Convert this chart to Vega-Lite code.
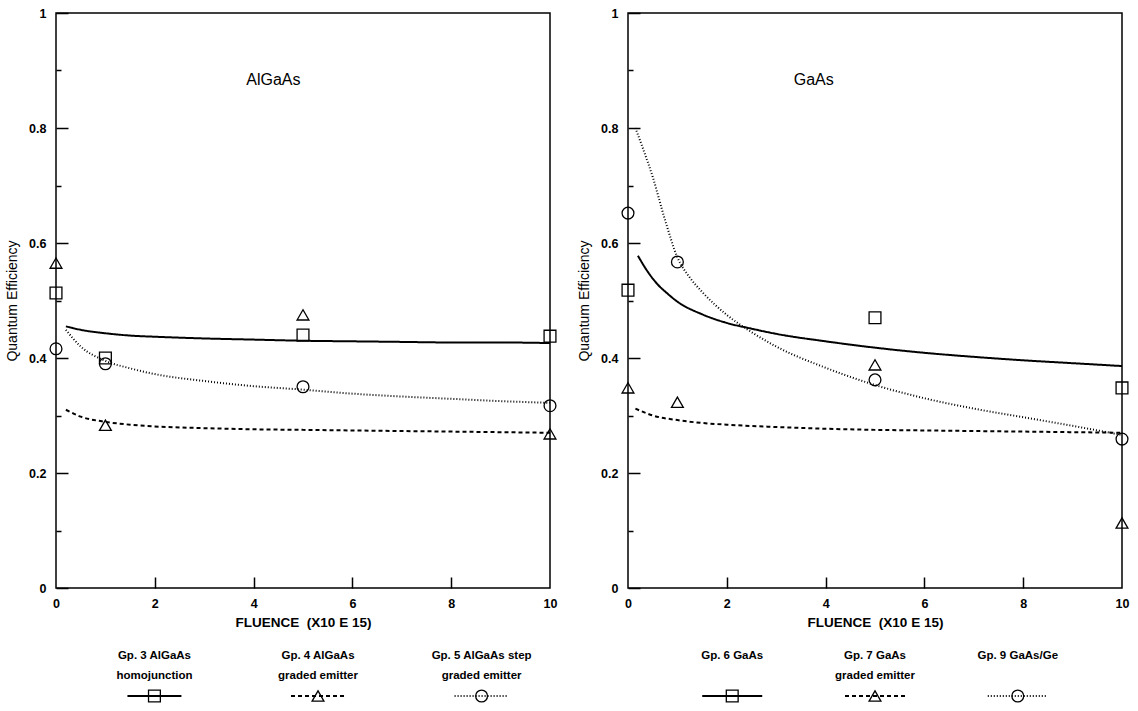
{
  "$schema": "https://vega.github.io/schema/vega-lite/v6.json",
  "background": "white",
  "padding": {"left": 4, "top": 6, "right": 0, "bottom": 0},
  "config": {
    "font": "Liberation Sans",
    "view": {"stroke": "black", "strokeWidth": 1.5},
    "axis": {"zindex": 1, "domain": false, "ticks": true, "tickColor": "black", "tickOpacity": 1, "tickWidth": 1.5, "labelColor": "black", "titleColor": "black", "grid": false, "labelFont": "Liberation Sans", "labelFontWeight": "bold", "labelFontSize": 12.5, "titleFont": "Liberation Sans", "titleFontSize": 13.5}
  },
  "datasets": {
    "curves": [
      {"panel": "AlGaAs", "group": "Gp. 3", "x": 0.2, "y": 0.455}, {"panel": "AlGaAs", "group": "Gp. 3", "x": 0.5, "y": 0.449}, {"panel": "AlGaAs", "group": "Gp. 3", "x": 1, "y": 0.443}, {"panel": "AlGaAs", "group": "Gp. 3", "x": 1.5, "y": 0.439}, {"panel": "AlGaAs", "group": "Gp. 3", "x": 2, "y": 0.437}, {"panel": "AlGaAs", "group": "Gp. 3", "x": 3, "y": 0.434}, {"panel": "AlGaAs", "group": "Gp. 3", "x": 4, "y": 0.432}, {"panel": "AlGaAs", "group": "Gp. 3", "x": 5, "y": 0.430}, {"panel": "AlGaAs", "group": "Gp. 3", "x": 6, "y": 0.429}, {"panel": "AlGaAs", "group": "Gp. 3", "x": 7, "y": 0.428}, {"panel": "AlGaAs", "group": "Gp. 3", "x": 8, "y": 0.427}, {"panel": "AlGaAs", "group": "Gp. 3", "x": 9, "y": 0.427}, {"panel": "AlGaAs", "group": "Gp. 3", "x": 10, "y": 0.426},
      {"panel": "AlGaAs", "group": "Gp. 4", "x": 0.2, "y": 0.310}, {"panel": "AlGaAs", "group": "Gp. 4", "x": 0.5, "y": 0.298}, {"panel": "AlGaAs", "group": "Gp. 4", "x": 1, "y": 0.289}, {"panel": "AlGaAs", "group": "Gp. 4", "x": 1.5, "y": 0.284}, {"panel": "AlGaAs", "group": "Gp. 4", "x": 2, "y": 0.281}, {"panel": "AlGaAs", "group": "Gp. 4", "x": 3, "y": 0.278}, {"panel": "AlGaAs", "group": "Gp. 4", "x": 4, "y": 0.276}, {"panel": "AlGaAs", "group": "Gp. 4", "x": 5, "y": 0.275}, {"panel": "AlGaAs", "group": "Gp. 4", "x": 6, "y": 0.274}, {"panel": "AlGaAs", "group": "Gp. 4", "x": 7, "y": 0.273}, {"panel": "AlGaAs", "group": "Gp. 4", "x": 8, "y": 0.272}, {"panel": "AlGaAs", "group": "Gp. 4", "x": 9, "y": 0.271}, {"panel": "AlGaAs", "group": "Gp. 4", "x": 10, "y": 0.270},
      {"panel": "AlGaAs", "group": "Gp. 5", "x": 0.2, "y": 0.449}, {"panel": "AlGaAs", "group": "Gp. 5", "x": 0.5, "y": 0.420}, {"panel": "AlGaAs", "group": "Gp. 5", "x": 1, "y": 0.395}, {"panel": "AlGaAs", "group": "Gp. 5", "x": 1.5, "y": 0.382}, {"panel": "AlGaAs", "group": "Gp. 5", "x": 2, "y": 0.372}, {"panel": "AlGaAs", "group": "Gp. 5", "x": 3, "y": 0.360}, {"panel": "AlGaAs", "group": "Gp. 5", "x": 4, "y": 0.351}, {"panel": "AlGaAs", "group": "Gp. 5", "x": 5, "y": 0.345}, {"panel": "AlGaAs", "group": "Gp. 5", "x": 6, "y": 0.338}, {"panel": "AlGaAs", "group": "Gp. 5", "x": 7, "y": 0.333}, {"panel": "AlGaAs", "group": "Gp. 5", "x": 8, "y": 0.329}, {"panel": "AlGaAs", "group": "Gp. 5", "x": 9, "y": 0.325}, {"panel": "AlGaAs", "group": "Gp. 5", "x": 10, "y": 0.322},
      {"panel": "GaAs", "group": "Gp. 6", "x": 0.2, "y": 0.578}, {"panel": "GaAs", "group": "Gp. 6", "x": 0.4, "y": 0.550}, {"panel": "GaAs", "group": "Gp. 6", "x": 0.6, "y": 0.528}, {"panel": "GaAs", "group": "Gp. 6", "x": 0.8, "y": 0.512}, {"panel": "GaAs", "group": "Gp. 6", "x": 1, "y": 0.498}, {"panel": "GaAs", "group": "Gp. 6", "x": 1.5, "y": 0.476}, {"panel": "GaAs", "group": "Gp. 6", "x": 2, "y": 0.461}, {"panel": "GaAs", "group": "Gp. 6", "x": 2.5, "y": 0.451}, {"panel": "GaAs", "group": "Gp. 6", "x": 3, "y": 0.442}, {"panel": "GaAs", "group": "Gp. 6", "x": 4, "y": 0.429}, {"panel": "GaAs", "group": "Gp. 6", "x": 5, "y": 0.418}, {"panel": "GaAs", "group": "Gp. 6", "x": 6, "y": 0.409}, {"panel": "GaAs", "group": "Gp. 6", "x": 7, "y": 0.402}, {"panel": "GaAs", "group": "Gp. 6", "x": 8, "y": 0.396}, {"panel": "GaAs", "group": "Gp. 6", "x": 9, "y": 0.391}, {"panel": "GaAs", "group": "Gp. 6", "x": 10, "y": 0.386},
      {"panel": "GaAs", "group": "Gp. 7", "x": 0.15, "y": 0.312}, {"panel": "GaAs", "group": "Gp. 7", "x": 0.5, "y": 0.300}, {"panel": "GaAs", "group": "Gp. 7", "x": 1, "y": 0.292}, {"panel": "GaAs", "group": "Gp. 7", "x": 1.5, "y": 0.287}, {"panel": "GaAs", "group": "Gp. 7", "x": 2, "y": 0.284}, {"panel": "GaAs", "group": "Gp. 7", "x": 3, "y": 0.280}, {"panel": "GaAs", "group": "Gp. 7", "x": 4, "y": 0.277}, {"panel": "GaAs", "group": "Gp. 7", "x": 5, "y": 0.275}, {"panel": "GaAs", "group": "Gp. 7", "x": 6, "y": 0.274}, {"panel": "GaAs", "group": "Gp. 7", "x": 7, "y": 0.273}, {"panel": "GaAs", "group": "Gp. 7", "x": 8, "y": 0.272}, {"panel": "GaAs", "group": "Gp. 7", "x": 9, "y": 0.271}, {"panel": "GaAs", "group": "Gp. 7", "x": 10, "y": 0.270},
      {"panel": "GaAs", "group": "Gp. 9", "x": 0.15, "y": 0.800}, {"panel": "GaAs", "group": "Gp. 9", "x": 0.3, "y": 0.765}, {"panel": "GaAs", "group": "Gp. 9", "x": 0.5, "y": 0.715}, {"panel": "GaAs", "group": "Gp. 9", "x": 0.75, "y": 0.640}, {"panel": "GaAs", "group": "Gp. 9", "x": 1, "y": 0.575}, {"panel": "GaAs", "group": "Gp. 9", "x": 1.25, "y": 0.540}, {"panel": "GaAs", "group": "Gp. 9", "x": 1.5, "y": 0.515}, {"panel": "GaAs", "group": "Gp. 9", "x": 2, "y": 0.475}, {"panel": "GaAs", "group": "Gp. 9", "x": 2.5, "y": 0.445}, {"panel": "GaAs", "group": "Gp. 9", "x": 3, "y": 0.420}, {"panel": "GaAs", "group": "Gp. 9", "x": 4, "y": 0.383}, {"panel": "GaAs", "group": "Gp. 9", "x": 5, "y": 0.353}, {"panel": "GaAs", "group": "Gp. 9", "x": 6, "y": 0.330}, {"panel": "GaAs", "group": "Gp. 9", "x": 7, "y": 0.312}, {"panel": "GaAs", "group": "Gp. 9", "x": 8, "y": 0.297}, {"panel": "GaAs", "group": "Gp. 9", "x": 9, "y": 0.282}, {"panel": "GaAs", "group": "Gp. 9", "x": 10, "y": 0.266}
    ],
    "points": [
      {"panel": "AlGaAs", "group": "Gp. 3", "x": 0, "y": 0.513}, {"panel": "AlGaAs", "group": "Gp. 3", "x": 1, "y": 0.400}, {"panel": "AlGaAs", "group": "Gp. 3", "x": 5, "y": 0.440}, {"panel": "AlGaAs", "group": "Gp. 3", "x": 10, "y": 0.438},
      {"panel": "AlGaAs", "group": "Gp. 4", "x": 0, "y": 0.565}, {"panel": "AlGaAs", "group": "Gp. 4", "x": 1, "y": 0.283}, {"panel": "AlGaAs", "group": "Gp. 4", "x": 5, "y": 0.475}, {"panel": "AlGaAs", "group": "Gp. 4", "x": 10, "y": 0.268},
      {"panel": "AlGaAs", "group": "Gp. 5", "x": 0, "y": 0.416}, {"panel": "AlGaAs", "group": "Gp. 5", "x": 1, "y": 0.390}, {"panel": "AlGaAs", "group": "Gp. 5", "x": 5, "y": 0.350}, {"panel": "AlGaAs", "group": "Gp. 5", "x": 10, "y": 0.317},
      {"panel": "GaAs", "group": "Gp. 6", "x": 0, "y": 0.518}, {"panel": "GaAs", "group": "Gp. 6", "x": 5, "y": 0.470}, {"panel": "GaAs", "group": "Gp. 6", "x": 10, "y": 0.348},
      {"panel": "GaAs", "group": "Gp. 7", "x": 0, "y": 0.348}, {"panel": "GaAs", "group": "Gp. 7", "x": 1, "y": 0.323}, {"panel": "GaAs", "group": "Gp. 7", "x": 5, "y": 0.388}, {"panel": "GaAs", "group": "Gp. 7", "x": 10, "y": 0.113},
      {"panel": "GaAs", "group": "Gp. 9", "x": 0, "y": 0.652}, {"panel": "GaAs", "group": "Gp. 9", "x": 1, "y": 0.567}, {"panel": "GaAs", "group": "Gp. 9", "x": 5, "y": 0.362}, {"panel": "GaAs", "group": "Gp. 9", "x": 10, "y": 0.259}
    ],
    "legend": [
      {"panel": "AlGaAs", "group": "Gp. 3", "line1": "Gp. 3 AlGaAs", "line2": "homojunction"},
      {"panel": "AlGaAs", "group": "Gp. 4", "line1": "Gp. 4 AlGaAs", "line2": "graded emitter"},
      {"panel": "AlGaAs", "group": "Gp. 5", "line1": "Gp. 5 AlGaAs step", "line2": "graded emitter"},
      {"panel": "GaAs", "group": "Gp. 6", "line1": "Gp. 6 GaAs", "line2": ""},
      {"panel": "GaAs", "group": "Gp. 7", "line1": "Gp. 7 GaAs", "line2": "graded emitter"},
      {"panel": "GaAs", "group": "Gp. 9", "line1": "Gp. 9 GaAs/Ge", "line2": ""}
    ],
    "titles": [
      {"panel": "AlGaAs", "label": "AlGaAs", "x": 4.4, "y": 0.883},
      {"panel": "GaAs", "label": "GaAs", "x": 3.76, "y": 0.883}
    ]
  },
  "resolve": {"scale": {"x": "independent", "y": "independent", "shape": "independent", "strokeDash": "independent", "strokeWidth": "independent"}},
  "spacing": 16,
  "hconcat": [
    {
      "spacing": 16,
      "resolve": {"scale": {"x": "independent", "y": "independent", "shape": "independent", "strokeDash": "independent", "strokeWidth": "independent"}},
      "vconcat": [
        {
          "width": 494,
          "height": 575,
          "encoding": {
            "x": {"field": "x", "type": "quantitative", "scale": {"domain": [0, 10], "nice": false},
              "axis": {"title": "FLUENCE\u00a0 (X10 E 15)", "titleFontWeight": "bold", "values": [0, 2, 4, 6, 8, 10], "offset": -11, "tickSize": 11,
                "tickDash": {"condition": {"test": "datum.value <= 0 || datum.value >= 10", "value": [0, 20]}, "value": [11, 0]},
                "labelPadding": 9, "titlePadding": 6, "labelFlush": false}},
            "y": {"field": "y", "type": "quantitative", "scale": {"domain": [0, 1], "nice": false},
              "axis": {"title": "Quantum Efficiency", "titleFontWeight": "normal", "titleFontSize": 14, "values": [0, 0.1, 0.2, 0.3, 0.4, 0.5, 0.6, 0.7, 0.8, 0.9, 1],
                "offset": -12, "tickSize": 12,
                "tickDash": {"condition": {"test": "round(datum.value*10)%2==1", "value": [0, 7, 5, 100]}, "value": [12, 0]},
                "labelPadding": 10, "titlePadding": 9,
                "labelExpr": "round(datum.value*10)%2==1 ? '' : (datum.value==0 ? '0' : (datum.value==1 ? '1' : format(datum.value, '.1f')))"}}
          },
          "layer": [
            {
              "data": {"name": "curves"},
              "transform": [{"filter": "datum.panel == 'AlGaAs'"}],
              "mark": {"type": "line", "interpolate": "monotone", "color": "black"},
              "encoding": {
                "detail": {"field": "group"},
                "strokeDash": {"field": "group", "type": "nominal", "scale": {"domain": ["Gp. 3", "Gp. 4", "Gp. 5"], "range": [[1, 0], [4, 3], [1, 2]]}, "legend": null},
                "strokeWidth": {"field": "group", "type": "ordinal", "scale": {"domain": ["Gp. 3", "Gp. 4", "Gp. 5"], "range": [2, 2, 1]}, "legend": null}
              }
            },
            {
              "data": {"name": "points"},
              "transform": [{"filter": "datum.panel == 'AlGaAs'"}],
              "mark": {"type": "point", "filled": false, "color": "black", "strokeWidth": 1.3, "size": 140, "opacity": 1},
              "encoding": {
                "shape": {"field": "group", "type": "nominal", "scale": {"domain": ["Gp. 3", "Gp. 4", "Gp. 5"], "range": ["square", "triangle-up", "circle"]}, "legend": null}
              }
            },
            {
              "data": {"name": "titles"},
              "transform": [{"filter": "datum.panel == 'AlGaAs'"}],
              "mark": {"type": "text", "fontSize": 16, "color": "black"},
              "encoding": {"text": {"field": "label"}}
            }
          ]
        },
        {
          "width": 494,
          "height": 60,
          "view": {"stroke": null},
          "data": {"name": "legend"},
          "transform": [{"filter": "datum.panel == 'AlGaAs'"}],
          "encoding": {
            "x": {"field": "group", "type": "nominal", "scale": {"type": "point", "domain": ["Gp. 3", "Gp. 4", "Gp. 5"], "padding": 0.51, "align": 0.59}, "axis": null}
          },
          "layer": [
            {
              "transform": [{"fold": ["line1", "line2"], "as": ["row", "text"]}],
              "mark": {"type": "text", "fontWeight": "bold", "fontSize": 11.5, "color": "black", "baseline": "middle"},
              "encoding": {
                "y": {"field": "row", "type": "nominal", "scale": {"type": "point", "domain": ["line1", "line2", "sample"], "padding": 0.5}, "axis": null},
                "text": {"field": "text"}
              }
            },
            {
              "mark": {"type": "rule", "color": "black", "xOffset": -27, "x2Offset": 27},
              "encoding": {
                "x2": {"field": "group"},
                "y": {"datum": "sample", "type": "nominal"},
                "strokeDash": {"field": "group", "type": "nominal", "scale": {"domain": ["Gp. 3", "Gp. 4", "Gp. 5"], "range": [[1, 0], [4, 3], [1, 2]]}, "legend": null},
                "strokeWidth": {"field": "group", "type": "ordinal", "scale": {"domain": ["Gp. 3", "Gp. 4", "Gp. 5"], "range": [2, 2, 1]}, "legend": null}
              }
            },
            {
              "mark": {"type": "point", "filled": false, "color": "black", "strokeWidth": 1.3, "size": 140, "opacity": 1},
              "encoding": {
                "y": {"datum": "sample", "type": "nominal"},
                "shape": {"field": "group", "type": "nominal", "scale": {"domain": ["Gp. 3", "Gp. 4", "Gp. 5"], "range": ["square", "triangle-up", "circle"]}, "legend": null}
              }
            }
          ]
        }
      ]
    },
    {
      "spacing": 16,
      "resolve": {"scale": {"x": "independent", "y": "independent", "shape": "independent", "strokeDash": "independent", "strokeWidth": "independent"}},
      "vconcat": [
        {
          "width": 494,
          "height": 575,
          "encoding": {
            "x": {"field": "x", "type": "quantitative", "scale": {"domain": [0, 10], "nice": false},
              "axis": {"title": "FLUENCE\u00a0 (X10 E 15)", "titleFontWeight": "bold", "values": [0, 2, 4, 6, 8, 10], "offset": -11, "tickSize": 11,
                "tickDash": {"condition": {"test": "datum.value <= 0 || datum.value >= 10", "value": [0, 20]}, "value": [11, 0]},
                "labelPadding": 9, "titlePadding": 6, "labelFlush": false}},
            "y": {"field": "y", "type": "quantitative", "scale": {"domain": [0, 1], "nice": false},
              "axis": {"title": "Quantum Efficiency", "titleFontWeight": "normal", "titleFontSize": 14, "values": [0, 0.1, 0.2, 0.3, 0.4, 0.5, 0.6, 0.7, 0.8, 0.9, 1],
                "offset": -12, "tickSize": 12,
                "tickDash": {"condition": {"test": "round(datum.value*10)%2==1", "value": [0, 7, 5, 100]}, "value": [12, 0]},
                "labelPadding": 10, "titlePadding": 9,
                "labelExpr": "round(datum.value*10)%2==1 ? '' : (datum.value==0 ? '0' : (datum.value==1 ? '1' : format(datum.value, '.1f')))"}}
          },
          "layer": [
            {
              "data": {"name": "curves"},
              "transform": [{"filter": "datum.panel == 'GaAs'"}],
              "mark": {"type": "line", "interpolate": "monotone", "color": "black"},
              "encoding": {
                "detail": {"field": "group"},
                "strokeDash": {"field": "group", "type": "nominal", "scale": {"domain": ["Gp. 6", "Gp. 7", "Gp. 9"], "range": [[1, 0], [4, 3], [1, 2]]}, "legend": null},
                "strokeWidth": {"field": "group", "type": "ordinal", "scale": {"domain": ["Gp. 6", "Gp. 7", "Gp. 9"], "range": [2, 2, 1]}, "legend": null}
              }
            },
            {
              "data": {"name": "points"},
              "transform": [{"filter": "datum.panel == 'GaAs'"}],
              "mark": {"type": "point", "filled": false, "color": "black", "strokeWidth": 1.3, "size": 140, "opacity": 1},
              "encoding": {
                "shape": {"field": "group", "type": "nominal", "scale": {"domain": ["Gp. 6", "Gp. 7", "Gp. 9"], "range": ["square", "triangle-up", "circle"]}, "legend": null}
              }
            },
            {
              "data": {"name": "titles"},
              "transform": [{"filter": "datum.panel == 'GaAs'"}],
              "mark": {"type": "text", "fontSize": 16, "color": "black"},
              "encoding": {"text": {"field": "label"}}
            }
          ]
        },
        {
          "width": 494,
          "height": 60,
          "view": {"stroke": null},
          "data": {"name": "legend"},
          "transform": [{"filter": "datum.panel == 'GaAs'"}],
          "encoding": {
            "x": {"field": "group", "type": "nominal", "scale": {"type": "point", "domain": ["Gp. 6", "Gp. 7", "Gp. 9"], "padding": 0.73, "align": 0.5}, "axis": null}
          },
          "layer": [
            {
              "transform": [{"fold": ["line1", "line2"], "as": ["row", "text"]}],
              "mark": {"type": "text", "fontWeight": "bold", "fontSize": 11.5, "color": "black", "baseline": "middle"},
              "encoding": {
                "y": {"field": "row", "type": "nominal", "scale": {"type": "point", "domain": ["line1", "line2", "sample"], "padding": 0.5}, "axis": null},
                "text": {"field": "text"}
              }
            },
            {
              "mark": {"type": "rule", "color": "black", "xOffset": -30, "x2Offset": 30},
              "encoding": {
                "x2": {"field": "group"},
                "y": {"datum": "sample", "type": "nominal"},
                "strokeDash": {"field": "group", "type": "nominal", "scale": {"domain": ["Gp. 6", "Gp. 7", "Gp. 9"], "range": [[1, 0], [4, 3], [1, 2]]}, "legend": null},
                "strokeWidth": {"field": "group", "type": "ordinal", "scale": {"domain": ["Gp. 6", "Gp. 7", "Gp. 9"], "range": [2, 2, 1]}, "legend": null}
              }
            },
            {
              "mark": {"type": "point", "filled": false, "color": "black", "strokeWidth": 1.3, "size": 140, "opacity": 1},
              "encoding": {
                "y": {"datum": "sample", "type": "nominal"},
                "shape": {"field": "group", "type": "nominal", "scale": {"domain": ["Gp. 6", "Gp. 7", "Gp. 9"], "range": ["square", "triangle-up", "circle"]}, "legend": null}
              }
            }
          ]
        }
      ]
    }
  ]
}
